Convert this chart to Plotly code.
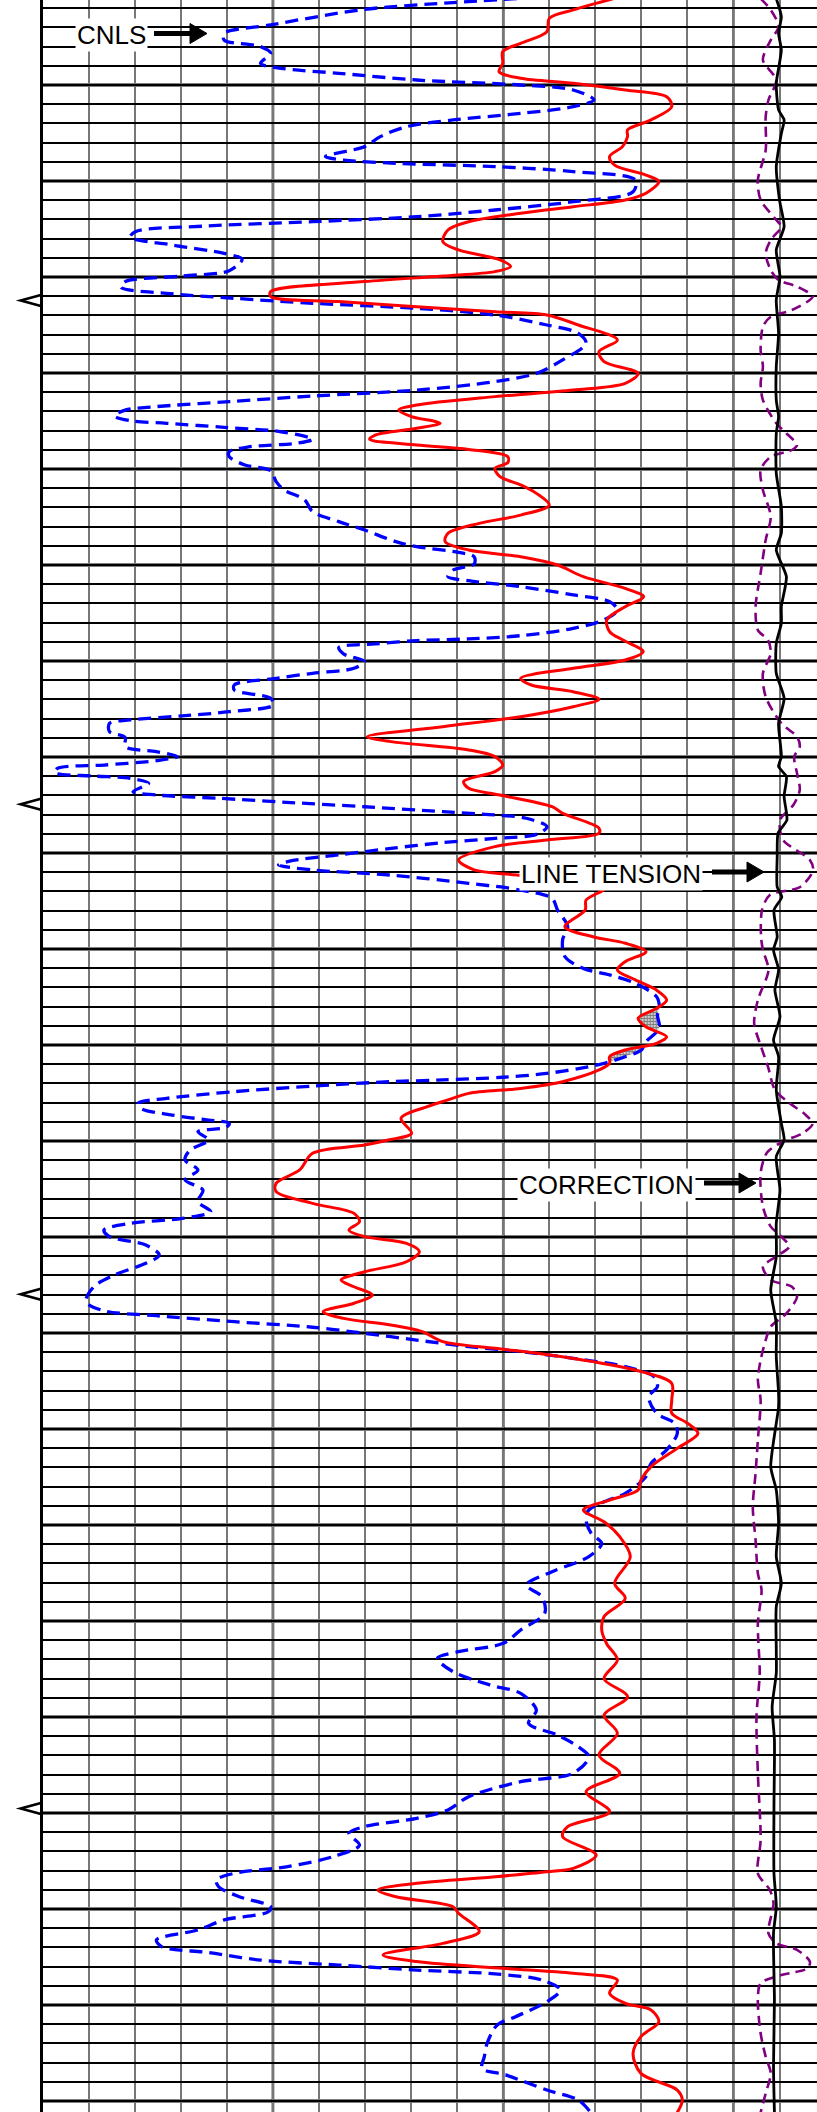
import numpy as np
import plotly.graph_objects as go

W, H = 817, 2112

# ---- depth is expressed in chart grid divisions (thick line every 5) ----
# ---- curve values are expressed in track divisions (0 .. 16.8) ----

cnls_depth = [-4.5, -4.29, -3.94, -3.13, -2.69, -2.34, -2.0, -1.65, -1.13, -0.87, -0.61, -0.26, 0.0, 0.26, 0.78,
              1.13, 1.48, 1.82, 2.17, 2.69, 3.21, 3.73, 3.91, 4.08, 4.25, 4.51, 4.95, 5.56, 6.08, 6.51, 6.86,
              7.12, 7.34, 7.64, 7.93, 8.33, 8.77, 9.08, 9.67, 9.95, 10.24, 10.54, 10.85, 11.11, 11.37, 11.63,
              11.98, 12.5, 12.93, 13.45, 14.32, 15.02, 15.45, 15.89, 16.2, 16.49, 16.75, 16.93, 17.24, 17.48,
              17.62, 17.83, 18.06, 18.45, 18.66, 18.84, 19.1, 19.36, 19.79, 20.09, 20.66, 21.09, 21.61, 22.22,
              22.74, 23.18, 23.78, 24.04, 24.34, 24.57, 24.95, 25.26, 25.61, 25.82, 26.13, 26.56, 26.91, 27.34,
              27.86, 28.3, 28.68, 28.85, 28.94, 29.11, 29.3, 29.64, 30.03, 30.38, 30.64, 30.9, 31.25, 31.51,
              31.94, 32.29, 32.64, 32.86, 33.07, 33.25, 33.68, 33.98, 34.46, 34.72, 34.98, 35.19, 35.42, 35.59,
              35.82, 35.99, 36.11, 36.37, 36.81, 36.98, 37.15, 37.36, 37.59, 37.85, 38.02, 38.19, 38.63, 39.03,
              39.24, 39.46, 39.76, 40.1, 40.4, 40.62, 40.88, 41.15, 41.58, 41.93, 42.36, 42.97, 43.84, 44.53,
              45.4, 46.01, 46.35, 46.79, 47.48, 48.0, 48.44, 49.13, 49.83, 50.26, 50.61, 50.95, 51.13, 51.48,
              51.68, 51.82, 51.91, 52.14, 52.43, 52.78, 53.04, 53.3, 53.65, 53.91, 54.08, 54.29, 54.51, 54.95,
              55.47, 55.99, 56.51, 57.03, 57.55, 58.16, 58.68, 59.03, 59.29, 59.64, 59.98, 60.42, 60.94, 61.37,
              61.98, 62.59, 63.37, 63.84, 64.1, 64.41, 64.7, 65.02, 65.37, 65.71, 65.97, 66.32, 66.75, 67.27,
              67.79, 68.32, 69.18, 69.7, 70.23, 71.09, 71.79, 72.48, 73.35, 73.79, 74.22, 74.74, 75.43, 75.96,
              76.65, 77.43, 78.13, 78.73, 79.6, 80.47, 81.16, 81.6, 81.94, 82.64, 83.33, 83.77, 84.64, 85.33,
              85.94, 86.55, 87.07, 87.93, 88.37, 89.15, 89.84, 90.28, 90.71, 91.06, 91.67, 92.27, 92.8, 93.14,
              93.49, 93.84, 94.36, 94.88, 95.14, 95.57, 96.09, 96.61, 96.96, 97.27, 97.66, 97.92, 98.18, 98.38,
              98.7, 99.22, 99.83, 100.61, 101.04, 102.0, 102.69, 103.3, 103.64, 104.43, 104.95, 105.6]
cnls_value = [10.3, 8.91, 6.99, 4.95, 3.94, 3.94, 4.73, 4.95, 4.73, 5.18, 6.43, 8.12, 10.38, 11.52, 11.97,
              11.52, 10.38, 8.91, 7.9, 7.33, 6.99, 6.14, 6.54, 7.67, 9.82, 11.52, 12.87, 12.82, 11.52, 9.82, 8.12,
              5.86, 3.6, 2.01, 1.9, 2.81, 3.94, 4.33, 4.05, 3.03, 1.79, 1.7, 2.69, 4.16, 5.86, 8.12,
              9.82, 10.95, 11.63, 11.8, 11.29, 10.72, 9.82, 8.12, 5.86, 4.05, 2.47, 1.79, 1.56, 1.9,
              2.69, 3.94, 5.18, 5.86, 5.52, 4.5, 4.05, 4.05, 4.39, 4.95, 5.07, 5.24, 5.69, 5.86,
              6.43, 6.99, 7.67, 8.12, 9.03, 9.37, 9.37, 8.91, 8.8, 9.25, 10.38, 11.52, 12.31, 12.48,
              12.19, 11.52, 10.38, 9.25, 8.12, 7.22, 6.43, 6.54, 6.99, 6.76, 5.86, 5.07, 4.16, 4.16,
              4.95, 5.01, 4.05, 3.03, 1.9, 1.45, 1.45, 1.79, 1.79, 2.47, 2.92, 2.47, 1.33, 0.32,
              0.26, 1.11, 1.9, 2.3, 1.96, 2.47, 3.82, 5.29, 6.99, 8.69, 9.82, 10.5, 10.95, 10.72,
              9.82, 8.69, 7.56, 6.43, 5.41, 5.12, 5.86, 7.56, 9.25, 10.38, 11.06, 11.18, 11.4, 11.29,
              11.34, 11.74, 12.31, 12.87, 13.33, 13.39, 13.35, 13.39, 13.1, 13.0, 12.65, 12.2, 11.86, 10.95,
              9.99, 8.69, 7.56, 5.86, 4.16, 2.69, 2.07, 2.13, 2.81, 3.6, 4.05, 3.99, 3.37, 3.6,
              3.2, 3.09, 3.37, 3.09, 3.48, 3.37, 3.65, 3.03, 1.9, 1.33, 1.45, 2.24, 2.53, 2.24,
              1.56, 1.11, 0.94, 1.33, 2.47, 4.16, 5.86, 6.99, 8.12, 9.25, 10.38, 11.52, 12.65, 13.27,
              13.35, 13.16, 13.33, 13.72, 13.78, 13.55, 13.21, 13.1, 12.65, 12.19, 11.86, 11.8, 11.91, 12.14,
              11.86, 11.06, 10.5, 10.84, 10.9, 10.38, 10.0, 9.03, 8.57, 8.91, 9.71, 10.38, 10.72, 10.55,
              11.18, 11.63, 11.86, 11.52, 10.38, 9.25, 8.8, 8.12, 6.99, 6.65, 6.88, 6.31, 5.29, 4.16,
              3.77, 3.82, 4.27, 4.95, 4.9, 3.94, 3.37, 2.47, 2.58, 3.6, 4.73, 6.43, 8.12, 9.82,
              10.84, 11.24, 10.95, 10.27, 9.87, 9.65, 9.59, 9.54, 10.05, 10.95, 11.63, 11.9]

red_depth = [-4.5, -3.91, -3.47, -2.78, -2.17, -1.74, -1.13, -0.69, -0.35, -0.09, 0.26, 0.61, 1.13, 1.82, 2.34,
             2.69, 3.21, 3.73, 4.17, 4.69, 5.03, 5.64, 5.99, 6.34, 6.68, 7.12, 7.55, 8.16, 8.59, 9.11, 9.46,
             9.72, 9.95, 10.24, 10.76, 11.02, 11.28, 11.55, 11.81, 11.98, 12.5, 13.28, 13.89, 14.41, 15.02,
             15.54, 15.89, 16.23, 16.67, 16.93, 17.27, 17.62, 17.88, 18.23, 18.45, 18.75, 18.98, 19.36, 19.67,
             19.96, 20.4, 20.83, 21.27, 21.88, 22.4, 22.83, 23.35, 23.78, 24.22, 24.57, 25.0, 25.61, 26.22,
             26.65, 27.17, 27.86, 28.47, 28.91, 29.51, 29.95, 30.38, 30.9, 31.25, 31.6, 31.99, 32.38, 32.9,
             33.42, 33.94, 34.2, 34.63, 34.98, 35.42, 35.76, 36.28, 36.63, 36.98, 37.59, 37.93, 38.71, 38.97,
             39.32, 39.67, 40.36, 40.88, 41.15, 41.5, 41.85, 42.45, 42.97, 43.84, 44.36, 44.7, 45.14, 45.66,
             46.09, 46.61, 47.14, 47.66, 48.09, 48.61, 49.05, 49.57, 49.91, 50.26, 50.61, 50.95, 51.3, 51.91,
             52.26, 52.52, 52.86, 53.21, 53.82, 54.6, 54.95, 55.21, 55.64, 56.51, 57.2, 57.64, 58.25, 58.77,
             59.2, 59.64, 59.98, 60.33, 60.76, 61.29, 61.81, 62.24, 62.59, 63.02, 63.45, 63.89, 64.24, 64.58,
             64.93, 65.45, 65.8, 66.09, 66.49, 67.01, 67.62, 68.49, 69.18, 69.7, 70.23, 71.01, 71.96, 72.66,
             73.18, 73.7, 74.22, 74.83, 75.61, 76.65, 78.04, 78.82, 79.77, 80.47, 81.2, 82.03, 83.0, 83.94,
             84.9, 85.85, 86.98, 87.93, 88.89, 89.93, 90.71, 91.23, 92.19, 92.88, 93.06, 93.32, 93.66, 94.01,
             94.36, 94.88, 95.22, 96.18, 96.79, 97.39, 97.74, 98.09, 98.35, 98.7, 99.39, 99.91, 100.26, 100.87,
             101.65, 102.52, 103.56, 104.43, 104.95, 105.6]
red_value = [12.4, 11.52, 11.0, 10.95, 10.38, 9.99, 9.99, 9.91, 10.38, 11.52, 12.65, 13.55, 13.66, 13.21, 12.7,
             12.7, 12.59, 12.31, 12.42, 13.1, 13.38, 13.1, 12.65, 11.52, 10.38, 9.25, 8.8, 8.69, 9.03, 9.93, 10.16,
             9.82, 8.69, 6.99, 4.95, 4.95, 6.43, 8.12, 9.82, 10.95, 11.63, 12.48, 12.08, 12.19, 12.93,
             12.65, 11.52, 9.82, 8.12, 7.73, 8.01, 8.63, 8.12, 7.22, 7.1, 8.12, 9.25, 10.1, 10.1,
             9.82, 9.93, 10.38, 10.72, 11.0, 10.38, 9.48, 8.8, 8.74, 9.25, 10.38, 11.18, 11.74, 12.65,
             13.05, 12.65, 12.25, 12.31, 12.6, 13.04, 12.65, 11.52, 10.38, 10.61, 11.52, 12.08, 11.52, 10.38,
             8.69, 7.05, 7.56, 9.25, 9.82, 9.99, 9.82, 9.14, 9.25, 9.93, 11.06, 11.29, 12.08, 12.08,
             10.95, 9.82, 9.03, 9.37, 10.3, 11.3, 12.2, 11.8, 11.78, 11.34, 11.95, 12.65, 13.1, 12.65,
             12.48, 12.87, 13.33, 13.55, 13.33, 12.93, 13.1, 13.55, 13.33, 12.65, 12.31, 12.31, 12.08, 11.29,
             10.38, 9.25, 8.8, 8.35, 7.78, 8.01, 7.5, 6.99, 5.86, 5.58, 5.07, 5.07, 5.86, 6.76,
             6.88, 6.65, 6.99, 7.9, 8.18, 7.9, 6.99, 6.48, 6.76, 7.16, 6.76, 6.09, 6.54, 7.56,
             8.24, 8.69, 9.82, 10.85, 11.95, 13.0, 13.66, 13.66, 13.66, 14.0, 14.23, 13.78, 13.21, 12.99,
             12.93, 12.31, 11.74, 12.19, 12.53, 12.76, 12.42, 12.65, 12.19, 12.14, 12.25, 12.48, 12.19, 12.7,
             12.19, 12.48, 12.08, 12.53, 11.8, 12.31, 11.4, 11.29, 12.02, 11.52, 10.95, 9.82, 8.12, 7.28,
             7.67, 8.91, 9.03, 9.48, 8.69, 7.39, 8.12, 9.99, 11.52, 12.48, 12.31, 12.65, 13.21, 13.38,
             12.99, 12.82, 12.99, 13.78, 13.89, 13.78]

correction_depth = [-4.5, -3.91, -3.04, -2.34, -1.3, -0.26, 0.78, 1.65, 3.39, 4.95, 5.99, 7.03, 7.38, 8.07, 8.77,
                    9.64, 10.16, 10.5, 11.02, 11.72, 12.07, 12.59, 13.8, 14.67, 15.54, 16.41, 17.62, 18.14, 18.75,
                    19.01, 19.36, 20.05, 21.09, 22.48, 23.7, 25.43, 27.17, 28.39, 28.91, 29.6, 30.64, 31.86, 33.25,
                    33.94, 34.46, 34.98, 35.85, 36.72, 37.5, 38.28, 39.32, 40.36, 40.89, 41.77, 42.19, 42.97, 44.38,
                    45.05, 46.09, 47.66, 48.87, 50.09, 51.13, 52.34, 53.0, 53.6, 54.1, 54.6, 55.0, 55.6, 56.68,
                    58.42, 59.46, 59.98, 60.5, 61.02, 61.54, 62.24, 62.59, 63.11, 63.98, 64.67, 65.37, 66.41, 67.45,
                    68.49, 70.57, 72.31, 74.05, 75.78, 77.52, 78.39, 80.12, 82.73, 84.98, 87.93, 91.41, 93.14, 94.01,
                    94.71, 96.27, 96.79, 97.13, 97.74, 98.09, 98.44, 98.87, 99.74, 101.47, 102.69, 103.56, 104.6, 105.6]
correction_value = [15.59, 15.81, 15.98, 15.81, 15.64, 15.93, 15.76, 15.7, 15.7, 15.53, 15.59, 15.93, 16.04, 15.81, 15.7,
                    15.81, 15.98, 16.38, 16.72, 16.27, 15.81, 15.64, 15.59, 15.64, 15.59, 15.64, 15.93, 16.15, 16.38,
                    16.27, 15.81, 15.59, 15.64, 15.81, 15.7, 15.59, 15.48, 15.53, 15.75, 15.81, 15.64, 15.7, 16.04,
                    16.38, 16.44, 16.32, 16.38, 16.44, 16.3, 16.01, 16.08, 16.66, 16.73, 16.45, 15.79, 15.62, 15.6,
                    15.64, 15.76, 15.53, 15.45, 15.6, 15.75, 15.9, 16.2, 16.55, 16.72, 16.5, 16.1, 15.73, 15.59,
                    15.64, 15.81, 16.04, 16.21, 15.93, 15.64, 15.81, 16.27, 16.38, 16.15, 15.81, 15.7, 15.59, 15.53,
                    15.59, 15.53, 15.48, 15.42, 15.48, 15.53, 15.61, 15.53, 15.57, 15.5, 15.53, 15.59, 15.53, 15.79,
                    15.87, 15.76, 15.93, 16.38, 16.66, 16.61, 16.04, 15.59, 15.53, 15.59, 15.7, 15.81, 15.7, 15.59]

tension_depth = [-4.5, -3.56, -2.69, -1.82, -0.09, 1.3, 1.82, 2.52, 4.25, 5.99, 7.38, 8.59, 9.98, 11.2, 12.93,
                 14.67, 16.41, 17.27, 18.14, 20.23, 21.96, 23.35, 24.22, 25.61, 27.17, 28.04, 29.08, 30.64, 31.94,
                 33.25, 34.98, 35.5, 36.02, 37.06, 38.28, 38.96, 40.19, 41.77, 42.29, 42.97, 44.38, 45.05, 46.09,
                 47.14, 48.52, 49.74, 50.61, 52.34, 54.08, 54.95, 55.81, 57.55, 59.29, 61.02, 62.76, 64.5, 66.23,
                 68.14, 68.84, 71.96, 73.18, 74.91, 76.65, 78.04, 79.25, 81.51, 82.73, 84.46, 86.2, 89.67, 93.14,
                 94.88, 96.27, 99.74, 103.21, 105.6]
tension_value = [15.93, 16.04, 15.98, 16.04, 15.93, 15.98, 16.1, 16.04, 15.93, 16.0, 16.1, 15.93, 16.01, 15.93, 15.98,
                 15.93, 15.93, 15.98, 15.93, 15.93, 16.04, 16.04, 15.93, 16.15, 16.04, 16.04, 15.93, 15.93, 16.1,
                 15.98, 16.04, 15.98, 16.15, 16.1, 16.16, 15.97, 15.95, 15.95, 16.05, 15.88, 15.95, 15.87, 15.98,
                 15.9, 16.01, 15.87, 15.98, 15.93, 16.04, 16.1, 15.93, 16.01, 15.93, 15.93, 15.81, 15.93, 15.93,
                 15.98, 15.98, 15.81, 15.93, 15.98, 15.93, 16.04, 15.93, 15.93, 15.93, 15.84, 15.89, 15.88, 15.88,
                 15.93, 15.87, 15.89, 15.87, 15.89]

# depth marks on the left edge
marker_depths = [11.23, 37.46, 62.98, 89.76]
# depth windows where the crossover shading is drawn
crossover_zones = [(43.0, 51.5), (65.5, 68.0), (72.0, 75.0)]

Y_TOP, Y_BOT = -85 / 19.2, (H - 85) / 19.2
X_LEFT_PX, X_STEP_PX = 42.7, 46.05
X_MAX = (W - X_LEFT_PX) / X_STEP_PX

fig = go.Figure()

# crossover shading (where CNLS reads to the right of the red curve)
rd, rv = np.array(red_depth), np.array(red_value)
bd, bv = np.array(cnls_depth), np.array(cnls_value)
for z0, z1 in crossover_zones:
    dd = np.linspace(z0, z1, 800)
    r = np.interp(dd, rd, rv)
    b = np.interp(dd, bd, bv)
    idx = np.where(b > r)[0]
    if len(idx) == 0:
        continue
    runs = np.split(idx, np.where(np.diff(idx) > 1)[0] + 1)
    for run in runs:
        if len(run) < 2:
            continue
        xs = np.concatenate([r[run], b[run][::-1]])
        ys = np.concatenate([dd[run], dd[run][::-1]])
        fig.add_trace(go.Scatter(x=xs, y=ys, mode="lines", fill="toself",
                                 line=dict(width=0), fillcolor="white",
                                 fillpattern=dict(shape="+", fgcolor="black", bgcolor="white",
                                                  size=3, solidity=0.7),
                                 hoverinfo="skip", showlegend=False))

fig.add_trace(go.Scatter(x=cnls_value, y=cnls_depth, mode="lines", name="CNLS",
                         line=dict(color="#0000FF", width=3.3, dash="13px,7px", shape="spline", smoothing=0.9),
                         showlegend=False))
fig.add_trace(go.Scatter(x=red_value, y=red_depth, mode="lines", name="Red",
                         line=dict(color="#FF0000", width=3, shape="spline", smoothing=0.9),
                         showlegend=False))
fig.add_trace(go.Scatter(x=correction_value, y=correction_depth, mode="lines", name="CORRECTION",
                         line=dict(color="#800080", width=2.6, dash="10px,6px", shape="spline", smoothing=0.8),
                         showlegend=False))
fig.add_trace(go.Scatter(x=tension_value, y=tension_depth, mode="lines", name="LINE TENSION",
                         line=dict(color="black", width=2.8, shape="spline", smoothing=0.6),
                         showlegend=False))


def PX(x):
    return x / W


def PY(y):
    return 1 - y / H


shapes = []
# heavy grid lines (every 5 divisions) drawn between grid and traces
for d in range(0, 106, 5):
    shapes.append(dict(type="line", xref="paper", yref="y", x0=X_LEFT_PX / W, x1=1, y0=d, y1=d,
                       line=dict(color="black", width=3), layer="between"))
for u, wdt in [(5, 2.5), (10, 2.5), (15, 2.0)]:
    shapes.append(dict(type="line", xref="x", yref="paper", x0=u, x1=u, y0=0, y1=1,
                       line=dict(color="black", width=wdt), layer="between"))

# left edge depth marks
for md in marker_depths:
    h = 6 / 19.2
    shapes.append(dict(type="path", xref="paper", yref="y",
                       path=f"M {PX(42.7)} {md - h} L {PX(20.7)} {md} L {PX(42.7)} {md + h}",
                       line=dict(color="black", width=2.6), layer="above"))

# arrows: (shaft start, shaft end, head base, tip, y)
arrows = [(154, 193, 190, 207, 33.5), (712, 750, 747, 764, 872), (704, 742, 739, 756, 1183)]
for x0, x1, hb, tip, yy in arrows:
    shapes.append(dict(type="line", xref="paper", yref="paper", x0=PX(x0), x1=PX(x1), y0=PY(yy), y1=PY(yy),
                       line=dict(color="black", width=5), layer="above"))
    shapes.append(dict(type="path", xref="paper", yref="paper",
                       path=f"M {PX(hb)} {PY(yy - 10)} L {PX(tip)} {PY(yy)} L {PX(hb)} {PY(yy + 10)} Z",
                       fillcolor="black", line=dict(color="black", width=1), layer="above"))

labels = [("CNLS", 112, 35), ("LINE TENSION", 611, 874), ("CORRECTION", 606, 1185)]
annotations = []
for txt, x, y in labels:
    annotations.append(dict(text=txt, xref="paper", yref="paper", x=PX(x), y=PY(y),
                            xanchor="center", yanchor="middle", showarrow=False,
                            font=dict(family="Liberation Sans, Arial, sans-serif", size=26, color="black"),
                            bgcolor="white", borderpad=1))

fig.update_layout(
    width=W, height=H, autosize=False,
    margin=dict(l=0, r=0, t=0, b=0, pad=0),
    paper_bgcolor="white", plot_bgcolor="white",
    showlegend=False,
    shapes=shapes, annotations=annotations,
    xaxis=dict(domain=[X_LEFT_PX / W, 1], range=[0, X_MAX], showticklabels=False, ticks="",
               zeroline=False, showline=False,
               tick0=0, dtick=1, showgrid=True, gridcolor="#777777", gridwidth=1.6),
    yaxis=dict(range=[Y_BOT, Y_TOP], showticklabels=False, ticks="", zeroline=False,
               showline=True, linecolor="black", linewidth=3.2, mirror=False,
               tick0=0, dtick=1, showgrid=True, gridcolor="black", gridwidth=1.6),
)

fig.write_html("out.html", config={"displayModeBar": False},
               post_script="document.body.style.margin='0';document.body.style.overflow='hidden';")
